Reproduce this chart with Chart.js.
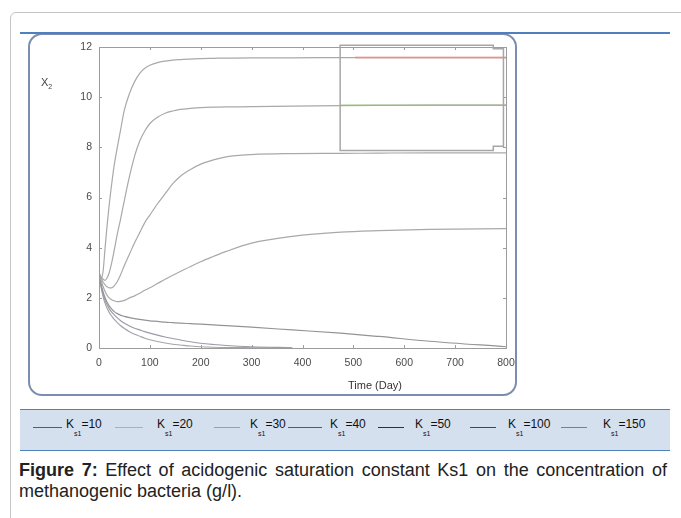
<!DOCTYPE html>
<html>
<head>
<meta charset="utf-8">
<script src="https://cdn.jsdelivr.net/npm/chart.js@4.4.0/dist/chart.umd.min.js"></script>
<style>
  body { margin: 0; width: 681px; height: 518px; overflow: hidden; background: #fff; position: relative; font-family: 'Liberation Sans', Arial, sans-serif; }
  .frame { position: absolute; left: 10px; top: 12px; width: 720px; height: 600px; border: 1px solid #c4c4c4; border-radius: 6px; }
  .plotBox { position: absolute; left: 28px; top: 33px; width: 489px; height: 363px; box-sizing: border-box; border: 2px solid #7b8eb1; border-radius: 14px; }
  .topRule { position: absolute; left: 20px; top: 32px; width: 650px; height: 2px; background: #4f7fbf; z-index: 2; }
  #myChart { position: absolute; left: 28px; top: 34px; }
  .yLabel { position: absolute; left: 41px; top: 76px; font-size: 11px; color: #444; }
  .yLabel sub { font-size: 7px; }
  .xLabel { position: absolute; left: 348px; top: 379px; font-size: 11px; color: #333; }
  .legendBand { position: absolute; left: 20px; top: 409px; width: 650px; height: 42px; box-sizing: border-box; background: #d5e0ef; border-top: 1.5px solid #4f81bd; border-bottom: 1.5px solid #4f81bd; }
  .lg-line { position: absolute; top: 427px; height: 1px; }
  .lg-text { position: absolute; top: 418px; font-size: 12px; line-height: 12px; color: #111; white-space: nowrap; }
  .lg-text sub { font-size: 7px; vertical-align: -8px; }
  .caption { position: absolute; left: 19px; top: 460px; width: 648px; font-size: 18px; line-height: 20.5px; color: #222; text-align: justify; }
</style>
</head>
<body>
<div class="frame"></div>
<div class="plotBox"></div>
<div class="topRule"></div>
<canvas id="myChart" width="488" height="362"></canvas>
<div class="yLabel">X<sub>2</sub></div>
<div class="xLabel">Time (Day)</div>

<div class="legendBand"></div>
<div class="lg-line" style="left:33px;width:29px;background:#d9262c"></div>
<div class="lg-text" style="left:66px">K<sub>s1</sub>=10</div>
<div class="lg-line" style="left:115px;width:28px;background:#92d050"></div>
<div class="lg-text" style="left:157px">K<sub>s1</sub>=20</div>
<div class="lg-line" style="left:214px;width:26px;background:#7fa4d8"></div>
<div class="lg-text" style="left:250px">K<sub>s1</sub>=30</div>
<div class="lg-line" style="left:288px;width:34px;background:#595959"></div>
<div class="lg-text" style="left:330px">K<sub>s1</sub>=40</div>
<div class="lg-line" style="left:378px;width:26px;background:#1f2d6e"></div>
<div class="lg-text" style="left:415px">K<sub>s1</sub>=50</div>
<div class="lg-line" style="left:470px;width:26px;background:#a31f1f"></div>
<div class="lg-text" style="left:508px">K<sub>s1</sub>=100</div>
<div class="lg-line" style="left:561px;width:26px;background:#7f7f7f"></div>
<div class="lg-text" style="left:603px">K<sub>s1</sub>=150</div>

<div class="caption"><b>Figure 7:</b> Effect of acidogenic saturation constant Ks1 on the concentration of methanogenic bacteria (g/l).</div>

<script>
// time grid (days) shared by all curves
const days = [0, 4, 8, 12, 16, 20, 25, 30, 36, 42, 50, 60, 70, 80, 90, 100, 115, 130, 145, 160, 180, 200, 225, 250, 300, 380, 475, 550, 650, 800];

// X2, one curve per Ks1 value
const curve1 = [3, 2.75, 3.05, 4.0, 4.9, 5.7, 6.55, 7.3, 8.0, 8.65, 9.5, 10.15, 10.62, 10.95, 11.15, 11.27, 11.38, 11.44, 11.48, 11.5, 11.52, 11.54, 11.55, 11.56, 11.57, 11.57, 11.58, 11.58, 11.58, 11.58];
const curve2 = [3, 2.85, 2.74, 2.7, 2.8, 3.0, 3.4, 3.9, 4.55, 5.1, 5.9, 6.85, 7.65, 8.25, 8.65, 8.95, 9.2, 9.36, 9.45, 9.51, 9.55, 9.58, 9.6, 9.61, 9.62, 9.64, 9.66, 9.67, 9.68, 9.68];
const curve3 = [3, 2.8, 2.63, 2.52, 2.44, 2.4, 2.4, 2.48, 2.65, 2.9, 3.3, 3.75, 4.2, 4.6, 5.0, 5.3, 5.75, 6.15, 6.55, 6.85, 7.12, 7.33, 7.5, 7.62, 7.71, 7.75, 7.76, 7.77, 7.78, 7.78];
const curve4 = [3, 2.7, 2.45, 2.25, 2.1, 2.0, 1.92, 1.88, 1.85, 1.86, 1.9, 2.0, 2.08, 2.18, 2.3, 2.4, 2.57, 2.74, 2.9, 3.05, 3.25, 3.44, 3.65, 3.85, 4.18, 4.45, 4.62, 4.68, 4.73, 4.76];
const curve5 = [3, 2.55, 2.25, 2.0, 1.82, 1.68, 1.55, 1.45, 1.37, 1.31, 1.26, 1.21, 1.17, 1.14, 1.11, 1.08, 1.06, 1.03, 1.01, 0.99, 0.97, 0.95, 0.92, 0.89, 0.83, 0.72, 0.59, 0.46, 0.27, 0.05];
const curve6 = [3, 2.5, 2.15, 1.9, 1.72, 1.57, 1.43, 1.32, 1.2, 1.1, 0.99, 0.88, 0.79, 0.72, 0.65, 0.59, 0.51, 0.44, 0.38, 0.32, 0.25, 0.19, 0.14, 0.1, 0.05, 0.01, null, null, null, null];
const curve7 = [3, 2.45, 2.05, 1.78, 1.58, 1.42, 1.27, 1.14, 1.01, 0.9, 0.78, 0.65, 0.55, 0.47, 0.39, 0.33, 0.26, 0.2, 0.15, 0.12, 0.08, 0.05, 0.03, 0.02, 0.01, 0, null, null, null, null];

// coloured overlay inside the inset box
const insetRedDays = [503, 800];
const insetRedVals = [11.58, 11.58];
const insetGreenDays = [474, 800];
const insetGreenVals = [9.68, 9.68];

const xTicks = [0, 100, 200, 300, 400, 500, 600, 700, 800];
const yTicks = [0, 2, 4, 6, 8, 10, 12];

const toPoints = (xs, ys) =>
  xs.map((d, i) => ({ x: d, y: ys[i] })).filter((p) => p.y !== null);

const grayCurve = (vals, color) => ({
  data: toPoints(days, vals),
  borderColor: color,
  borderWidth: 1.2,
  cubicInterpolationMode: 'monotone',
  pointRadius: 0,
});

const datasets = [
  grayCurve(curve1, '#a9a9a9'),
  grayCurve(curve2, '#a9a9a9'),
  grayCurve(curve3, '#a9a9a9'),
  grayCurve(curve4, '#a9a9a9'),
  grayCurve(curve5, '#949494'),
  grayCurve(curve6, '#9a9ca8'),
  grayCurve(curve7, '#a4a4ac'),
  { data: toPoints(insetRedDays, insetRedVals), borderColor: '#ea6a5e', borderWidth: 1.5, pointRadius: 0 },
  { data: toPoints(insetGreenDays, insetGreenVals), borderColor: '#9fd27e', borderWidth: 1.5, pointRadius: 0 },
];

//Frame, inward ticks and the inset box
const frameBox = {
  id: 'frameBox',
  afterDatasetsDraw(chart) {
    const { ctx, chartArea: a } = chart;
    const x = chart.scales.x;
    const y = chart.scales.y;
    ctx.save();
    ctx.strokeStyle = '#9c9c9c';
    ctx.lineWidth = 1;
    ctx.strokeRect(a.left + 0.5, a.top + 0.5, a.right - a.left, a.bottom - a.top);
    ctx.beginPath();
    xTicks.forEach((v) => {
      const px = Math.round(x.getPixelForValue(v)) + 0.5;
      ctx.moveTo(px, a.bottom);
      ctx.lineTo(px, a.bottom - 3);
      ctx.moveTo(px, a.top);
      ctx.lineTo(px, a.top + 3);
    });
    yTicks.forEach((v) => {
      const py = Math.round(y.getPixelForValue(v)) + 0.5;
      ctx.moveTo(a.left, py);
      ctx.lineTo(a.left + 3, py);
      ctx.moveTo(a.right, py);
      ctx.lineTo(a.right - 3, py);
    });
    ctx.stroke();

    // inset box with notched right corners
    const box = [[474, 12.07], [775, 12.07], [775, 11.93], [795, 11.93], [795, 8.04], [775, 8.04], [775, 7.87], [474, 7.87]];
    ctx.strokeStyle = '#a6a6a6';
    ctx.lineWidth = 1.5;
    ctx.beginPath();
    box.forEach(([bx, by], i) => {
      const px = x.getPixelForValue(bx);
      const py = y.getPixelForValue(by);
      if (i === 0) ctx.moveTo(px, py);
      else ctx.lineTo(px, py);
    });
    ctx.closePath();
    ctx.stroke();
    ctx.restore();
  },
};

const tickFont = { family: "'Liberation Sans', Arial, sans-serif", size: 10.5 };

const config = {
  type: 'line',
  data: { datasets: datasets },
  options: {
    responsive: false,
    animation: false,
    layout: { padding: { top: 13, right: 10, bottom: 26, left: 0 } },
    plugins: {
      legend: { display: false },
      tooltip: { enabled: false },
    },
    scales: {
      x: {
        type: 'linear',
        min: 0,
        max: 800,
        afterBuildTicks: (s) => { s.ticks = xTicks.map((v) => ({ value: v })); },
        ticks: { color: '#4a4a4a', font: tickFont, padding: 9, maxRotation: 0 },
        grid: { display: false, drawTicks: false },
        border: { display: false },
        afterFit: (s) => { s.height = 22; s.paddingLeft = 0; s.paddingRight = 0; },
      },
      y: {
        min: 0,
        max: 12,
        afterBuildTicks: (s) => { s.ticks = yTicks.map((v) => ({ value: v })); },
        ticks: { color: '#4a4a4a', font: tickFont, padding: 7 },
        grid: { display: false, drawTicks: false },
        border: { display: false },
        afterFit: (s) => { s.width = 71; s.paddingTop = 0; s.paddingBottom = 0; },
      },
    },
  },
  plugins: [frameBox],
};

const ctxX2 = document.getElementById('myChart');
try {
  const x2Chart = new Chart(ctxX2, config);
} catch (e) {
  // eslint-disable-next-line no-console
  console.log(e);
}
</script>
</body>
</html>
